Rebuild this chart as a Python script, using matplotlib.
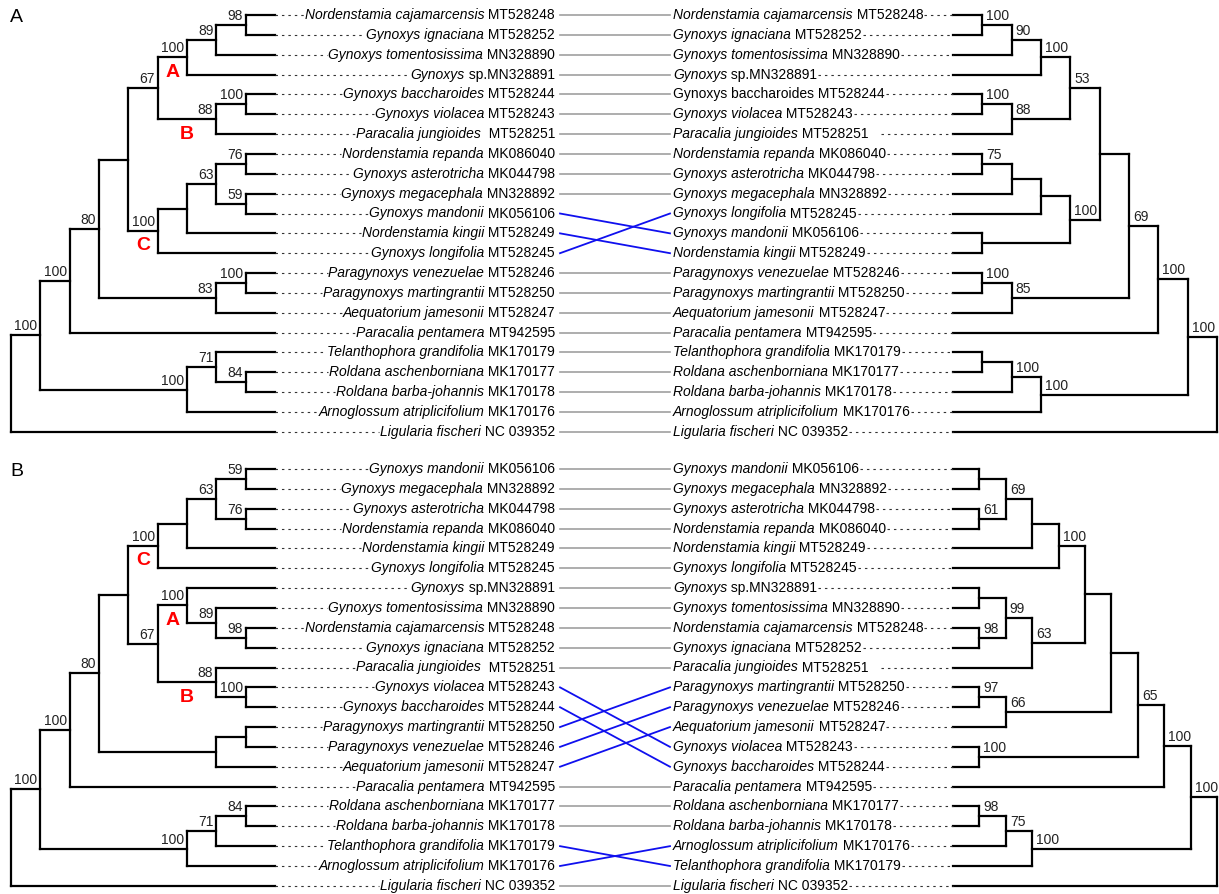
import matplotlib
matplotlib.use("Agg")
import matplotlib.pyplot as plt

plt.rcParams['font.family'] = ['Liberation Sans', 'DejaVu Sans']

# taxon key -> (species, accession)
taxa = {
    "cajamarcensis": ("Nordenstamia cajamarcensis", "MT528248"),
    "ignaciana": ("Gynoxys ignaciana", "MT528252"),
    "tomentosissima": ("Gynoxys tomentosissima", "MN328890"),
    "sp": ("Gynoxys", "sp.MN328891"),
    "baccharoides": ("Gynoxys baccharoides", "MT528244"),
    "violacea": ("Gynoxys violacea", "MT528243"),
    "jungioides": ("Paracalia jungioides", "MT528251"),
    "repanda": ("Nordenstamia repanda", "MK086040"),
    "asterotricha": ("Gynoxys asterotricha", "MK044798"),
    "megacephala": ("Gynoxys megacephala", "MN328892"),
    "mandonii": ("Gynoxys mandonii", "MK056106"),
    "kingii": ("Nordenstamia kingii", "MT528249"),
    "longifolia": ("Gynoxys longifolia", "MT528245"),
    "venezuelae": ("Paragynoxys venezuelae", "MT528246"),
    "martingrantii": ("Paragynoxys martingrantii", "MT528250"),
    "jamesonii": ("Aequatorium jamesonii", "MT528247"),
    "pentamera": ("Paracalia pentamera", "MT942595"),
    "grandifolia": ("Telanthophora grandifolia", "MK170179"),
    "aschenborniana": ("Roldana aschenborniana", "MK170177"),
    "barba": ("Roldana barba-johannis", "MK170178"),
    "atriplicifolium": ("Arnoglossum atriplicifolium", "MK170176"),
    "fischeri": ("Ligularia fischeri", "NC 039352"),
}

# extra spacing carried over from the original label strings
left_gap = {"jungioides": "  "}
right_tail = {"jungioides": "   "}

# internal node: (support, [children]) or (support, [children], clade letter)
tree_a_left = ("", [
    ("100", [
        ("100", [
            ("80", [
                ("", [
                    ("67", [
                        ("100", [("89", [("98", ["cajamarcensis", "ignaciana"]), "tomentosissima"]), "sp"], "A"),
                        ("88", [("100", ["baccharoides", "violacea"]), "jungioides"], "B"),
                    ]),
                    ("100", [("", [("63", [("76", ["repanda", "asterotricha"]),
                                           ("59", ["megacephala", "mandonii"])]), "kingii"]),
                             "longifolia"], "C"),
                ]),
                ("83", [("100", ["venezuelae", "martingrantii"]), "jamesonii"]),
            ]),
            "pentamera",
        ]),
        ("100", [("71", ["grandifolia", ("84", ["aschenborniana", "barba"])]), "atriplicifolium"]),
    ]),
    "fischeri",
])

tree_a_right = ("", [
    ("100", [
        ("100", [
            ("69", [
                ("", [
                    ("53", [
                        ("100", [("90", [("100", ["cajamarcensis", "ignaciana"]), "tomentosissima"]), "sp"]),
                        ("88", [("100", ["baccharoides", "violacea"]), "jungioides"]),
                    ]),
                    ("100", [
                        ("", [("", [("75", ["repanda", "asterotricha"]), "megacephala"]), "longifolia"]),
                        ("", ["mandonii", "kingii"]),
                    ]),
                ]),
                ("85", [("100", ["venezuelae", "martingrantii"]), "jamesonii"]),
            ]),
            "pentamera",
        ]),
        ("100", [("100", [("", ["grandifolia", "aschenborniana"]), "barba"]), "atriplicifolium"]),
    ]),
    "fischeri",
])

tree_b_left = ("", [
    ("100", [
        ("100", [
            ("80", [
                ("", [
                    ("100", [("", [("63", [("59", ["mandonii", "megacephala"]),
                                           ("76", ["asterotricha", "repanda"])]), "kingii"]),
                             "longifolia"], "C"),
                    ("67", [
                        ("100", ["sp", ("89", ["tomentosissima", ("98", ["cajamarcensis", "ignaciana"])])], "A"),
                        ("88", ["jungioides", ("100", ["violacea", "baccharoides"])], "B"),
                    ]),
                ]),
                ("", [("", ["martingrantii", "venezuelae"]), "jamesonii"]),
            ]),
            "pentamera",
        ]),
        ("100", [("71", [("84", ["aschenborniana", "barba"]), "grandifolia"]), "atriplicifolium"]),
    ]),
    "fischeri",
])

tree_b_right = ("", [
    ("100", [
        ("100", [
            ("65", [
                ("", [
                    ("", [
                        ("100", [("", [("69", [("", ["mandonii", "megacephala"]),
                                               ("61", ["asterotricha", "repanda"])]), "kingii"]),
                                 "longifolia"]),
                        ("63", [("99", [("", ["sp", "tomentosissima"]),
                                        ("98", ["cajamarcensis", "ignaciana"])]), "jungioides"]),
                    ]),
                    ("66", [("97", ["martingrantii", "venezuelae"]), "jamesonii"]),
                ]),
                ("100", ["violacea", "baccharoides"]),
            ]),
            "pentamera",
        ]),
        ("100", [("75", [("98", ["aschenborniana", "barba"]), "atriplicifolium"]), "grandifolia"]),
    ]),
    "fischeri",
])

# species printed upright in a given tree
upright = {("A", "right"): {"baccharoides"}}

TIP_L, TIP_R, SPAN = 275, 953, 264
LABEL_L, LABEL_R = 555, 673
LINK_L, LINK_R = 560, 670
ROW = 19.85
FS, FS_NODE = 10, 10


def height(node):
    if isinstance(node, str):
        return 0
    return 1 + max(height(c) for c in node[1])


def leaves(node):
    if isinstance(node, str):
        return [node]
    out = []
    for c in node[1]:
        out += leaves(c)
    return out


def draw_tree(ax, node, ys, xpos, side):
    if isinstance(node, str):
        return xpos(0), ys[node]
    pts = [draw_tree(ax, c, ys, xpos, side) for c in node[1]]
    x = xpos(height(node))
    y = (pts[0][1] + pts[-1][1]) / 2
    kw = dict(color='black', lw=1.6, solid_capstyle='projecting')
    ax.plot([x, x], [pts[0][1], pts[-1][1]], **kw)
    for child, (cx, cy) in zip(node[1], pts):
        ax.plot([x, cx], [cy, cy], **kw)
        if not isinstance(child, str) and len(child) > 2:
            ax.text((x + cx) / 2, cy + 15, child[2], color='red', fontsize=14,
                    fontweight='bold', ha='center', va='center')
    if node[0]:
        if side == 'left':
            ax.text(x - 3, y - 2, node[0], fontsize=FS_NODE, ha='right', va='bottom', color='#222222')
        else:
            ax.text(x + 4, y - 2, node[0], fontsize=FS_NODE, ha='left', va='bottom', color='#222222')
    return x, y


def to_data(ax, t, r):
    bb = t.get_window_extent(renderer=r)
    inv = ax.transData.inverted()
    (x0, _), (x1, _) = inv.transform([(bb.x0, bb.y0), (bb.x1, bb.y1)])
    return x0, x1


fig = plt.figure(figsize=(12.19, 8.94), dpi=100)
ax = fig.add_axes([0, 0, 1, 1])
ax.set_xlim(0, 1219)
ax.set_ylim(894, 0)
ax.axis('off')
r = fig.canvas.get_renderer()

leader = dict(color='#333333', lw=0.8, dashes=(2.2, 3.6))

panels = [("A", 15, tree_a_left, tree_a_right), ("B", 469, tree_b_left, tree_b_right)]
for name, top, tl, tr in panels:
    ax.text(10, top + 3, name, fontsize=14, ha='left', va='center')
    left_order, right_order = leaves(tl), leaves(tr)
    yl = {k: top + i * ROW for i, k in enumerate(left_order)}
    yr = {k: top + i * ROW for i, k in enumerate(right_order)}

    hl, hr = height(tl), height(tr)
    draw_tree(ax, tl, yl, lambda d: TIP_L - d * SPAN / hl, 'left')
    draw_tree(ax, tr, yr, lambda d: TIP_R + d * SPAN / hr, 'right')

    # left labels, right-aligned
    for k in left_order:
        sp, acc = taxa[k]
        y = yl[k]
        t1 = ax.text(LABEL_L, y, left_gap.get(k, " ") + acc, fontsize=FS, ha='right', va='center')
        a0, _ = to_data(ax, t1, r)
        t2 = ax.text(a0, y, sp, fontsize=FS, ha='right', va='center', style='italic')
        s0, _ = to_data(ax, t2, r)
        ax.plot([TIP_L, s0 - 1], [y, y], **leader)

    # right labels, left-aligned
    for k in right_order:
        sp, acc = taxa[k]
        y = yr[k]
        style = 'normal' if k in upright.get((name, "right"), set()) else 'italic'
        t1 = ax.text(LABEL_R, y, sp, fontsize=FS, ha='left', va='center', style=style)
        _, s1 = to_data(ax, t1, r)
        t2 = ax.text(s1, y, " " + acc + right_tail.get(k, ""), fontsize=FS, ha='left', va='center')
        _, a1 = to_data(ax, t2, r)
        ax.plot([a1 + 1, TIP_R], [y, y], **leader)

    # links between the two label columns
    for k in left_order:
        same = yl[k] == yr[k]
        ax.plot([LINK_L, LINK_R], [yl[k], yr[k]],
                color='#a0a0a0' if same else '#1010ee', lw=1.2 if same else 1.3)

fig.savefig("out.png", dpi=100)
